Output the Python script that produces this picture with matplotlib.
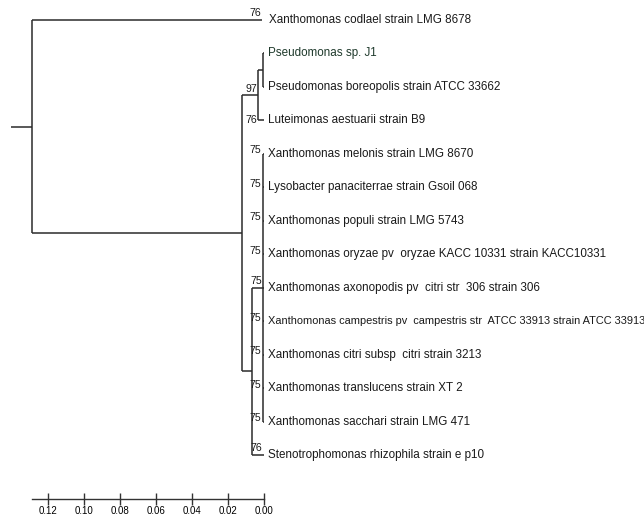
import matplotlib
matplotlib.use('Agg')
import matplotlib.pyplot as plt

# taxa in drawing order (top to bottom)
taxa = [
    'Xanthomonas codlael strain LMG 8678',
    'Pseudomonas sp. J1',
    'Pseudomonas boreopolis strain ATCC 33662',
    'Luteimonas aestuarii strain B9',
    'Xanthomonas melonis strain LMG 8670',
    'Lysobacter panaciterrae strain Gsoil 068',
    'Xanthomonas populi strain LMG 5743',
    'Xanthomonas oryzae pv  oryzae KACC 10331 strain KACC10331',
    'Xanthomonas axonopodis pv  citri str  306 strain 306',
    'Xanthomonas campestris pv  campestris str  ATCC 33913 strain ATCC 33913',
    'Xanthomonas citri subsp  citri strain 3213',
    'Xanthomonas translucens strain XT 2',
    'Xanthomonas sacchari strain LMG 471',
    'Stenotrophomonas rhizophila strain e p10',
]

# node heights (distance to tips)
root_h = 0.1289
codlaei_h = 0.0011
clade_h = 0.0122
pseudo_h = 0.0033
pseudo_pair_h = 0.0004
xanth_h = 0.0067
polytomy_h = 0.0006

# bootstrap values
bs_codlaei = 76
bs_pseudo = 97
bs_lutei = 76
bs_polytomy = [75, 75, 75, 75, 75, 75, 75, 75, 75]
bs_steno = 76

scale_ticks = [0.12, 0.10, 0.08, 0.06, 0.04, 0.02, 0.00]

lc = '#2b2b2b'
lw = 1.1
font = ['Liberation Sans', 'DejaVu Sans']

fig = plt.figure(figsize=(6.44, 5.17), dpi=100)
ax = fig.add_axes([0, 0, 1, 1])
px = 1800.0
ax.set_xlim(264 / px, (264 - 644) / px)
ax.set_ylim((517 - 20) / 33.46, -20 / 33.46)
ax.axis('off')


def hline(y, h0, h1):
    ax.plot([h0, h1], [y, y], color=lc, lw=lw, solid_capstyle='butt')


def vline(h, y0, y1):
    ax.plot([h, h], [y0, y1], color=lc, lw=lw, solid_capstyle='butt')


# pseudomonas / luteimonas clade
pair_y = (1 + 2) / 2
hline(1, pseudo_pair_h, 0)
hline(2, pseudo_pair_h, 0)
vline(pseudo_pair_h, 1, 2)
hline(pair_y, pseudo_h, pseudo_pair_h)
hline(3, pseudo_h, 0)
vline(pseudo_h, pair_y, 3)
pseudo_y = (pair_y + 3) / 2

# xanthomonas polytomy
poly_idx = list(range(4, 13))
poly_y = (poly_idx[0] + poly_idx[-1]) / 2
for i in poly_idx:
    hline(i, polytomy_h, 0)
vline(polytomy_h, poly_idx[0], poly_idx[-1])
hline(poly_y, xanth_h, polytomy_h)
hline(13, xanth_h, 0)
vline(xanth_h, poly_y, 13)
xanth_y = (poly_y + 13) / 2

# joining clades
hline(pseudo_y, clade_h, pseudo_h)
hline(xanth_y, clade_h, xanth_h)
vline(clade_h, pseudo_y, xanth_y)
clade_y = (pseudo_y + xanth_y) / 2

# root
hline(0, root_h, codlaei_h)
hline(clade_y, root_h, clade_h)
vline(root_h, 0, clade_y)
root_y = (0 + clade_y) / 2
hline(root_y, root_h + 21 / px, root_h)

# taxon labels, shrinking any that would run off the right edge
renderer = fig.canvas.get_renderer()
fig_w = fig.bbox.width
for i, name in enumerate(taxa):
    h = -4 / px if i else codlaei_h - 7 / px
    col = '#1f3a2c' if i == 1 else '#1a1a1a'
    t = ax.text(h, i, name, ha='left', va='center', fontsize=8.4,
                family=font, color=col)
    bb = t.get_window_extent(renderer)
    if bb.x1 > fig_w - 1:
        t.set_fontsize(8.4 * (fig_w - 1 - bb.x0) / bb.width)

# bootstrap labels
bs_kw = dict(fontsize=7.6, family=font, color='#1a1a1a', ha='right')
ax.text(codlaei_h + 1 / px, -0.05, str(bs_codlaei), va='bottom', **bs_kw)
ax.text(pseudo_h + 1 / px, pseudo_y - 0.05, str(bs_pseudo), va='bottom', **bs_kw)
ax.text(pseudo_h + 1 / px, 3, str(bs_lutei), va='center', **bs_kw)
for i, v in zip(poly_idx, bs_polytomy):
    if i == 8:
        ax.text(polytomy_h + 1 / px, i - 0.05, str(v), va='bottom', **bs_kw)
    else:
        ax.text(polytomy_h + 2 / px, i - 0.1, str(v), va='center', **bs_kw)
ax.text(polytomy_h + 1 / px, 12.95, str(bs_steno), va='bottom', **bs_kw)

# distance scale
sax = fig.add_axes([0, 18 / 517, 1, 0.01], sharex=ax)
sax.set_xlim(264 / px, (264 - 644) / px)
for s in ['left', 'right', 'top']:
    sax.spines[s].set_visible(False)
sax.spines['bottom'].set_bounds(root_h, 0)
sax.spines['bottom'].set_color('#333333')
sax.spines['bottom'].set_linewidth(1.0)
sax.set_yticks([])
sax.set_xticks(scale_ticks)
sax.set_xticklabels(['%.2f' % t for t in scale_ticks], family=font, fontsize=7)
sax.tick_params(axis='x', direction='inout', length=8, width=1.0,
                color='#333333', pad=1)
sax.patch.set_alpha(0)

fig.savefig('out.png', dpi=100)
